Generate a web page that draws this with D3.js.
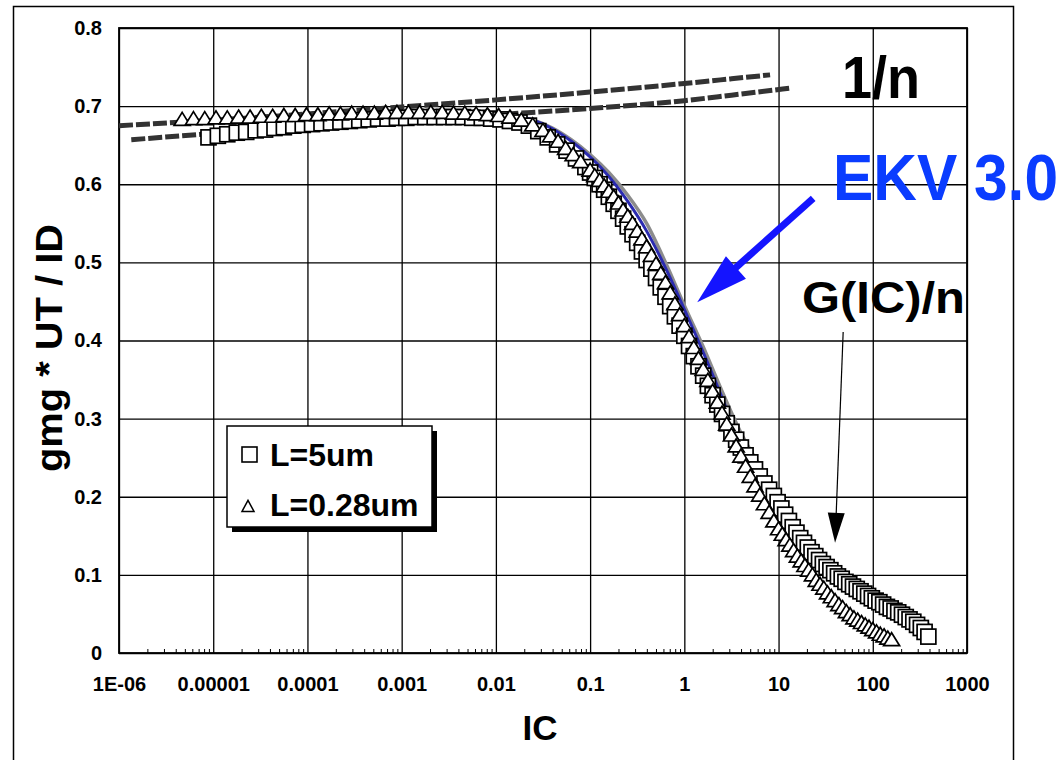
<!DOCTYPE html>
<html>
<head>
<meta charset="utf-8">
<script src="https://cdn.jsdelivr.net/npm/d3@7"></script>
<style>
  html, body { margin: 0; padding: 0; background: #fff; }
  svg { display: block; font-family: "Liberation Sans", Arial, Helvetica, sans-serif; }
</style>
</head>
<body>
<svg id="chart" width="1064" height="760"></svg>
<script>
// ---- measured gm*UT/ID versus inversion coefficient IC ----
// L = 5 um (squares)
const icL5 = [
  8.91e-6, 1.12e-5, 1.41e-5, 1.78e-5, 2.24e-5, 2.82e-5, 3.55e-5, 4.47e-5, 5.62e-5, 7.08e-5, 8.91e-5,
  1.12e-4, 1.41e-4, 1.78e-4, 2.24e-4, 2.82e-4, 3.55e-4, 4.47e-4, 5.62e-4, 7.08e-4, 8.91e-4,
  1.12e-3, 1.41e-3, 1.78e-3, 2.24e-3, 2.82e-3, 3.55e-3, 4.47e-3, 5.62e-3, 7.08e-3, 8.91e-3,
  1.12e-2, 1.41e-2, 1.78e-2, 2.24e-2, 2.82e-2, 3.55e-2, 4.47e-2, 5.62e-2, 7.08e-2,
  0.0891, 0.100, 0.112, 0.126, 0.141, 0.158, 0.178, 0.200, 0.224, 0.251, 0.282, 0.316, 0.355, 0.398,
  0.447, 0.501, 0.562, 0.631, 0.708, 0.794, 0.891, 1.000, 1.122, 1.259, 1.413, 1.585, 1.778, 1.995,
  2.239, 2.512, 2.818, 3.162, 3.548, 3.981, 4.467, 5.012, 5.623, 6.310, 7.079, 7.943, 8.913, 9.772,
  10.72, 11.75, 12.88, 14.13, 15.49, 16.98, 18.62, 20.42, 22.39, 24.55, 26.92, 29.51, 32.36,
  35.48, 38.90, 42.66, 46.77, 51.29, 56.23, 61.66, 67.61, 74.13, 81.28, 89.13, 97.72,
  107.2, 117.5, 128.8, 141.3, 154.9, 169.8, 186.2, 204.2, 223.9, 245.5, 269.2, 295.1, 323.6, 354.8, 389.0
];
const gmL5 = [
  0.660, 0.662, 0.664, 0.666, 0.667, 0.669, 0.670, 0.672, 0.673, 0.675, 0.676,
  0.677, 0.678, 0.679, 0.680, 0.681, 0.682, 0.683, 0.684, 0.684, 0.685,
  0.685, 0.686, 0.686, 0.686, 0.686, 0.686, 0.686, 0.685, 0.685, 0.684,
  0.683, 0.681, 0.679, 0.675, 0.668, 0.660, 0.651, 0.643, 0.633,
  0.622, 0.615, 0.608, 0.600, 0.593, 0.584, 0.575, 0.566, 0.556, 0.546, 0.536, 0.525, 0.514, 0.503,
  0.492, 0.480, 0.468, 0.456, 0.444, 0.431, 0.419, 0.406, 0.393, 0.380, 0.367, 0.355, 0.342, 0.330,
  0.318, 0.306, 0.294, 0.283, 0.273, 0.263, 0.253, 0.244, 0.235, 0.226, 0.217, 0.209, 0.201, 0.193,
  0.185, 0.177, 0.169, 0.161, 0.154, 0.147, 0.141, 0.135, 0.129, 0.124, 0.119, 0.114, 0.110,
  0.106, 0.102, 0.098, 0.095, 0.091, 0.088, 0.085, 0.082, 0.079, 0.076, 0.073, 0.070,
  0.067, 0.065, 0.062, 0.059, 0.057, 0.054, 0.052, 0.049, 0.046, 0.043, 0.040, 0.036, 0.032, 0.027, 0.021
];

// L = 0.28 um (triangles)
const icL028 = [
  4.68e-6, 6.17e-6, 8.13e-6, 1.07e-5, 1.41e-5, 1.86e-5, 2.46e-5, 3.24e-5, 4.27e-5, 5.62e-5, 7.41e-5, 9.77e-5,
  1.29e-4, 1.70e-4, 2.24e-4, 2.95e-4, 3.89e-4, 5.13e-4, 6.76e-4, 8.91e-4,
  1.18e-3, 1.55e-3, 2.04e-3, 2.69e-3, 3.55e-3, 4.68e-3, 6.17e-3, 8.13e-3,
  1.07e-2, 1.41e-2, 1.86e-2, 2.46e-2, 3.16e-2, 3.80e-2, 4.57e-2, 5.50e-2, 6.61e-2, 7.94e-2,
  0.100, 0.112, 0.126, 0.141, 0.158, 0.178, 0.200, 0.224, 0.251, 0.282, 0.316, 0.355, 0.398, 0.447,
  0.501, 0.562, 0.631, 0.708, 0.794, 0.891, 1.000, 1.122, 1.259, 1.413, 1.585, 1.778, 1.995, 2.239,
  2.512, 2.818, 3.162, 3.548, 3.981, 4.467, 5.012, 5.623, 6.310, 7.079, 7.943, 8.913,
  10.00, 10.96, 12.02, 13.18, 14.45, 15.85, 17.38, 19.05, 20.89, 22.91, 25.12, 27.54, 30.20,
  33.11, 36.31, 39.81, 43.65, 47.86, 52.48, 57.54, 63.10, 69.18, 75.86, 83.18, 91.20,
  100.0, 109.6, 120.2, 131.8, 144.5, 158.5
];
const gmL028 = [
  0.682, 0.683, 0.683, 0.684, 0.684, 0.685, 0.685, 0.686, 0.686, 0.687, 0.687, 0.688,
  0.688, 0.689, 0.689, 0.690, 0.690, 0.690, 0.691, 0.691,
  0.691, 0.691, 0.691, 0.691, 0.690, 0.690, 0.689, 0.688,
  0.687, 0.685, 0.681, 0.675, 0.668, 0.661, 0.654, 0.645, 0.637, 0.628,
  0.617, 0.610, 0.604, 0.597, 0.590, 0.583, 0.575, 0.566, 0.558, 0.549, 0.539, 0.529, 0.519, 0.508,
  0.497, 0.485, 0.473, 0.460, 0.446, 0.432, 0.418, 0.404, 0.390, 0.376, 0.362, 0.348, 0.334, 0.320,
  0.306, 0.292, 0.278, 0.264, 0.251, 0.238, 0.225, 0.213, 0.201, 0.190, 0.179, 0.168,
  0.158, 0.151, 0.144, 0.137, 0.130, 0.123, 0.117, 0.111, 0.105, 0.099, 0.092, 0.087, 0.082,
  0.076, 0.071, 0.066, 0.061, 0.057, 0.052, 0.048, 0.044, 0.041, 0.038, 0.035, 0.032,
  0.029, 0.026, 0.023, 0.021, 0.018, 0.016
];

// 1/n curves (dashed)
const invNIcA = [1e-6, 1e-5, 1e-4, 1e-3, 1e-2, 0.1, 1, 3.16, 8.13];
const invNA   = [0.675, 0.682, 0.690, 0.699, 0.708, 0.718, 0.729, 0.735, 0.740];
const invNIcB = [1.35e-6, 1e-5, 1e-4, 1e-3, 1e-2, 0.1, 1, 3.16, 13.2];
const invNB   = [0.657, 0.665, 0.673, 0.681, 0.689, 0.697, 0.707, 0.714, 0.723];

// G(IC)/n model (grey)
const gModelIc = [0.0126, 0.0251, 0.0398, 0.0631, 0.1, 0.158, 0.251, 0.398, 0.631, 1, 1.585, 2.512,
                  3.981, 6.31, 10, 15.85, 25.12, 39.81, 63.1, 100, 158.5, 251.2, 398.1];
const gModel   = [0.688, 0.682, 0.672, 0.657, 0.638, 0.615, 0.586, 0.550, 0.500, 0.445, 0.392, 0.335,
                  0.282, 0.240, 0.203, 0.162, 0.133, 0.110, 0.090, 0.077, 0.063, 0.050, 0.036];

// EKV 3.0 model (blue)
const ekvIc = [0.01, 0.0158, 0.0251, 0.0398, 0.0631, 0.1, 0.158, 0.251, 0.398, 0.631, 1, 1.585,
               2.512, 3.981, 6.31, 10, 15.85, 25.12, 39.81, 63.1, 100, 158.5];
const ekv   = [0.690, 0.688, 0.682, 0.671, 0.655, 0.635, 0.610, 0.578, 0.540, 0.493, 0.440, 0.385,
               0.327, 0.265, 0.205, 0.155, 0.118, 0.088, 0.064, 0.045, 0.030, 0.018];

// axis ticks
const xDecades = [1e-6, 1e-5, 1e-4, 1e-3, 1e-2, 0.1, 1, 10, 100, 1000];
const xTickLabels = ["1E-06", "0.00001", "0.0001", "0.001", "0.01", "0.1", "1", "10", "100", "1000"];
const yTickValues = [0, 0.1, 0.2, 0.3, 0.4, 0.5, 0.6, 0.7, 0.8];
const yTickLabels = ["0", "0.1", "0.2", "0.3", "0.4", "0.5", "0.6", "0.7", "0.8"];

// annotation anchors in data units
const blueArrow = { fromIc: 23.3, fromGm: 0.582, toIc: 1.37, toGm: 0.449 };
const blackArrow = { fromIc: 48.5, fromGm: 0.411, toIc: 39.8, toGm: 0.141 };

// ---- layout ----
const svg = d3.select("#chart");
const plot = { left: 119, right: 967, top: 28, bottom: 653 };

const x = d3.scaleLog().domain([1e-6, 1000]).range([plot.left, plot.right]);
const y = d3.scaleLinear().domain([0, 0.8]).range([plot.bottom, plot.top]);

// outer figure frame
svg.append("rect")
  .attr("x", 13.5).attr("y", 6.5).attr("width", 1000).attr("height", 800)
  .attr("fill", "#fff").attr("stroke", "#000").attr("stroke-width", 1.5);

// minor ticks on the bottom axis (2..9 of each decade)
const minorTicks = x.ticks().filter(v => !xDecades.some(d => Math.abs(d - v) / d < 1e-9));
svg.append("g")
  .attr("transform", `translate(0,${plot.bottom})`)
  .call(d3.axisBottom(x).tickValues(minorTicks).tickSize(-4).tickFormat(""))
  .call(g => g.select(".domain").remove())
  .call(g => g.selectAll("line").attr("stroke", "#000").attr("stroke-width", 1));

// vertical gridlines + x tick labels
svg.append("g")
  .attr("transform", `translate(0,${plot.bottom})`)
  .call(d3.axisBottom(x).tickValues(xDecades)
        .tickSize(-(plot.bottom - plot.top))
        .tickPadding(24)
        .tickFormat((d, i) => xTickLabels[i]))
  .call(g => g.select(".domain").remove())
  .call(g => g.selectAll("line").attr("stroke", "#000").attr("stroke-width", 1.3))
  .call(g => g.selectAll("text")
        .attr("font-size", 20).attr("font-weight", "bold").attr("fill", "#000")
        .attr("font-family", "Liberation Sans, Arial, sans-serif"));

// horizontal gridlines + y tick labels
svg.append("g")
  .attr("transform", `translate(${plot.left},0)`)
  .call(d3.axisLeft(y).tickValues(yTickValues)
        .tickSize(-(plot.right - plot.left))
        .tickPadding(17)
        .tickFormat((d, i) => yTickLabels[i]))
  .call(g => g.select(".domain").remove())
  .call(g => g.selectAll("line").attr("stroke", "#000").attr("stroke-width", 1.3))
  .call(g => g.selectAll("text")
        .attr("font-size", 20).attr("font-weight", "bold").attr("fill", "#000")
        .attr("font-family", "Liberation Sans, Arial, sans-serif"));

// plot box
svg.append("rect")
  .attr("x", plot.left).attr("y", plot.top)
  .attr("width", plot.right - plot.left).attr("height", plot.bottom - plot.top)
  .attr("fill", "none").attr("stroke", "#000").attr("stroke-width", 1.8);

// clip for data
svg.append("clipPath").attr("id", "plotClip")
  .append("rect").attr("x", plot.left).attr("y", plot.top)
  .attr("width", plot.right - plot.left).attr("height", plot.bottom - plot.top);
const dataG = svg.append("g").attr("clip-path", "url(#plotClip)");

const zip = (xs, ys) => xs.map((v, i) => ({ ic: v, gm: ys[i] }));
const line = d3.line().x(d => x(d.ic)).y(d => y(d.gm)).curve(d3.curveMonotoneX);

// 1/n dashed curves
[[invNIcA, invNA], [invNIcB, invNB]].forEach(([xs, ys]) => {
  dataG.append("path")
    .datum(zip(xs, ys))
    .attr("d", line)
    .attr("fill", "none")
    .attr("stroke", "#333")
    .attr("stroke-width", 5)
    .attr("stroke-dasharray", "14 3");
});

// models
dataG.append("path").datum(zip(gModelIc, gModel)).attr("d", line)
  .attr("fill", "none").attr("stroke", "#8c8c8c").attr("stroke-width", 3.5);
dataG.append("path").datum(zip(ekvIc, ekv)).attr("d", line)
  .attr("fill", "none").attr("stroke", "#2b2bb0").attr("stroke-width", 3);

// squares: L = 5 um
const sq = 15;
dataG.append("g").selectAll("rect")
  .data(zip(icL5, gmL5))
  .join("rect")
  .attr("x", d => x(d.ic) - sq / 2)
  .attr("y", d => y(d.gm) - sq / 2)
  .attr("width", sq).attr("height", sq)
  .attr("fill", "#fff").attr("stroke", "#000").attr("stroke-width", 1.7);

// triangles: L = 0.28 um
const triPath = (w, h) => `M0,${-h * 0.6}L${w / 2},${h * 0.4}L${-w / 2},${h * 0.4}Z`;
dataG.append("g").selectAll("path")
  .data(zip(icL028, gmL028))
  .join("path")
  .attr("transform", d => `translate(${x(d.ic)},${y(d.gm)})`)
  .attr("d", triPath(16, 13))
  .attr("fill", "#fff").attr("stroke", "#000").attr("stroke-width", 1.7)
  .attr("stroke-linejoin", "miter");

// ---- annotations ----
function arrow(g, x1, y1, x2, y2, width, headLen, headW, color) {
  const dx = x2 - x1, dy = y2 - y1, len = Math.hypot(dx, dy);
  const ux = dx / len, uy = dy / len, px = -uy, py = ux;
  const bx = x2 - ux * headLen, by = y2 - uy * headLen;
  g.append("line").attr("x1", x1).attr("y1", y1).attr("x2", bx + ux * 2).attr("y2", by + uy * 2)
    .attr("stroke", color).attr("stroke-width", width);
  g.append("path")
    .attr("d", `M${x2},${y2}L${bx + px * headW / 2},${by + py * headW / 2}L${bx - px * headW / 2},${by - py * headW / 2}Z`)
    .attr("fill", color);
}

const annG = svg.append("g");
arrow(annG, x(blueArrow.fromIc), y(blueArrow.fromGm), x(blueArrow.toIc), y(blueArrow.toGm), 7, 52, 30, "#1414ff");
arrow(annG, x(blackArrow.fromIc), y(blackArrow.fromGm), x(blackArrow.toIc), y(blackArrow.toGm), 1.2, 30, 17, "#000");

annG.append("text").attr("x", 842).attr("y", 98)
  .attr("font-size", 60).attr("font-weight", "bold").attr("fill", "#000")
  .attr("textLength", 78).attr("lengthAdjust", "spacingAndGlyphs")
  .text("1/n");

annG.append("text").attr("x", 833).attr("y", 200)
  .attr("font-size", 64).attr("font-weight", "bold").attr("fill", "#0a3cff")
  .attr("textLength", 225).attr("lengthAdjust", "spacingAndGlyphs")
  .text("EKV 3.0");

annG.append("text").attr("x", 802).attr("y", 313)
  .attr("font-size", 44).attr("font-weight", "bold").attr("fill", "#000")
  .attr("textLength", 163).attr("lengthAdjust", "spacingAndGlyphs")
  .text("G(IC)/n");

// ---- legend ----
const leg = svg.append("g");
leg.append("rect").attr("x", 232).attr("y", 431).attr("width", 205).attr("height", 101).attr("fill", "#000");
leg.append("rect").attr("x", 227).attr("y", 426).attr("width", 205).attr("height", 101)
  .attr("fill", "#fff").attr("stroke", "#000").attr("stroke-width", 1.5);
leg.append("rect").attr("x", 242).attr("y", 447).attr("width", 15).attr("height", 15)
  .attr("fill", "#fff").attr("stroke", "#000").attr("stroke-width", 1.6);
leg.append("text").attr("x", 270).attr("y", 466)
  .attr("font-size", 32).attr("font-weight", "bold").text("L=5um");
leg.append("path").attr("transform", "translate(248,507)").attr("d", triPath(12, 11))
  .attr("fill", "#fff").attr("stroke", "#000").attr("stroke-width", 1.5);
leg.append("text").attr("x", 270).attr("y", 516)
  .attr("font-size", 32).attr("font-weight", "bold").text("L=0.28um");

// ---- axis titles ----
svg.append("text").attr("x", 540).attr("y", 740).attr("text-anchor", "middle")
  .attr("font-size", 35).attr("font-weight", "bold").text("IC");

svg.append("text")
  .attr("transform", "translate(62,348) rotate(-90)")
  .attr("text-anchor", "middle")
  .attr("font-size", 36).attr("font-weight", "bold")
  .attr("textLength", 248).attr("lengthAdjust", "spacingAndGlyphs")
  .text("gmg * UT / ID");
</script>
</body>
</html>
